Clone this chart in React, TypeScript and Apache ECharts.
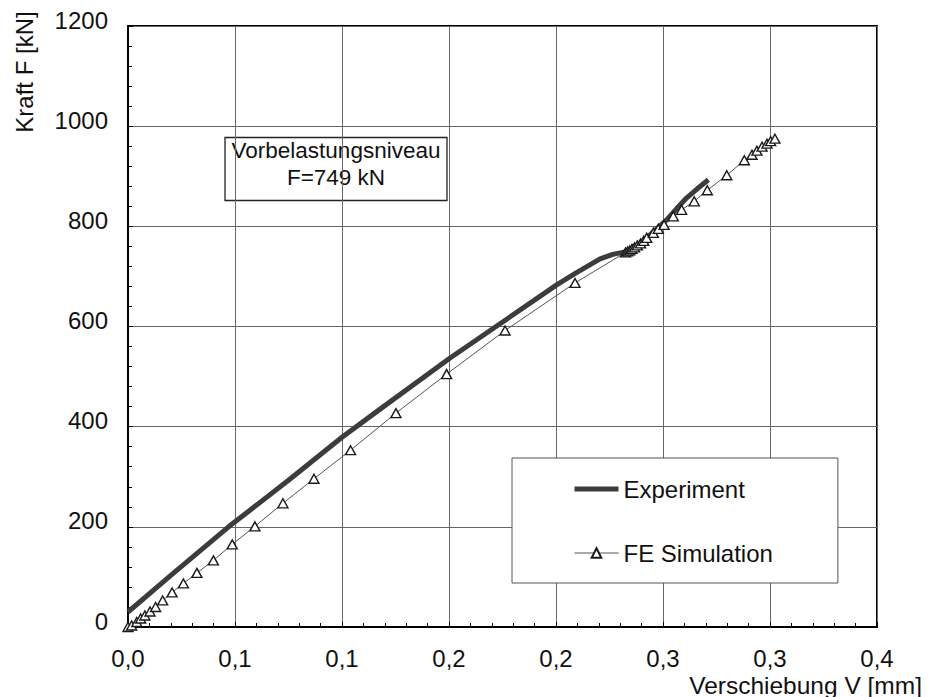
import React, { useEffect, useRef } from 'react';
import * as echarts from 'echarts';

// Experiment (Verschiebung V [mm], Kraft F [kN])
const expX = [0, 0.02, 0.047, 0.075, 0.1, 0.1178, 0.1505, 0.173, 0.2003, 0.209, 0.2206, 0.2265, 0.2322, 0.236, 0.233, 0.2375, 0.2345, 0.2395, 0.237, 0.2407, 0.2455, 0.2517, 0.2565, 0.2611, 0.266, 0.2712];
const expF = [30, 103, 200, 293, 379, 435, 537, 603, 683, 706, 735, 744, 749, 753, 745, 758, 748, 764, 754, 770, 789, 813, 836, 857, 875, 893];

// FE Simulation
const feX = [0, 0.0017, 0.0041, 0.0059, 0.0079, 0.0103, 0.0129, 0.0162, 0.0206, 0.0259, 0.0322, 0.0399, 0.0487, 0.0593, 0.0724, 0.0869, 0.104, 0.1252, 0.1489, 0.1762, 0.2089, 0.2325, 0.2335, 0.2345, 0.2355, 0.2367, 0.238, 0.2395, 0.241, 0.2424, 0.2455, 0.2478, 0.2505, 0.2548, 0.2587, 0.2646, 0.2707, 0.2798, 0.288, 0.2916, 0.2939, 0.2963, 0.2986, 0.3003, 0.3023];
const feF = [0, 3, 10, 17, 23, 31, 40, 53, 69, 87, 108, 133, 165, 201, 247, 296, 353, 427, 505, 592, 687, 748, 750, 752, 755, 758, 762, 766, 771, 777, 787, 795, 803, 820, 833, 850, 872, 902, 932, 943, 951, 959, 965, 970, 975];

const xTickLabels = ['0,0', '0,1', '0,1', '0,2', '0,2', '0,3', '0,3', '0,4'];
const yTickLabels = ['0', '200', '400', '600', '800', '1000', '1200'];

const seriesNames = ['Experiment', 'FE Simulation'];
const xAxisTitle = 'Verschiebung V [mm]';
const yAxisTitle = 'Kraft F [kN]';
const noteLines = ['Vorbelastungsniveau', 'F=749 kN'];

const FONT = "'Liberation Sans', Arial, Helvetica, sans-serif";

export default function App() {
  const ref = useRef<HTMLDivElement>(null);
  useEffect(() => {
    const chart = echarts.init(ref.current!, null, { renderer: 'svg' });
    chart.setOption({
      animation: false,
      backgroundColor: '#ffffff',
      textStyle: { fontFamily: FONT },
      grid: {
        left: 128, right: 51, top: 26, bottom: 70,
        show: true, borderColor: '#000', borderWidth: 2,
        containLabel: false, outerBoundsMode: 'none',
      },
      xAxis: {
        type: 'value', min: 0, max: 0.35, interval: 0.05,
        axisLine: { show: true, lineStyle: { color: '#000', width: 2 } },
        axisTick: { show: true, inside: true, length: 5, lineStyle: { color: '#000' } },
        minorTick: { show: true, splitNumber: 5, length: 4, lineStyle: { color: '#000' } },
        splitLine: { show: true, lineStyle: { color: '#666', width: 1 } },
        axisLabel: {
          margin: 19, fontSize: 24, color: '#111', fontFamily: FONT,
          formatter: (v: number) => xTickLabels[Math.round(v / 0.05)] ?? '',
        },
      },
      yAxis: {
        type: 'value', min: 0, max: 1200, interval: 200,
        axisLine: { show: true, lineStyle: { color: '#000', width: 2 } },
        axisTick: { show: true, inside: true, length: 5, lineStyle: { color: '#000' } },
        minorTick: { show: true, splitNumber: 5, length: 4, lineStyle: { color: '#000' } },
        splitLine: { show: true, lineStyle: { color: '#666', width: 1 } },
        axisLabel: {
          margin: 20, fontSize: 24, color: '#111', fontFamily: FONT,
          verticalAlign: 'bottom', padding: [0, 0, -6, 0],
          formatter: (v: number) => yTickLabels[Math.round(v / 200)] ?? '',
        },
      },
      legend: {
        orient: 'vertical',
        left: 512, top: 458,
        padding: [19, 65, 18, 60],
        itemGap: 40,
        itemWidth: 44,
        itemHeight: 12,
        backgroundColor: '#fff',
        borderColor: '#555',
        borderWidth: 1,
        borderRadius: 0,
        textStyle: { fontSize: 24, color: '#111', fontFamily: FONT },
        data: [
          { name: seriesNames[0], itemStyle: { opacity: 0 }, lineStyle: { width: 5, color: '#3c3c3c' } },
          { name: seriesNames[1], lineStyle: { width: 1, color: '#555' } },
        ],
      },
      graphic: [
        {
          type: 'group', z: 50,
          children: [
            { type: 'rect', shape: { x: 225, y: 137.5, width: 222, height: 63 }, style: { fill: '#fff', stroke: '#222', lineWidth: 1.3 } },
            { type: 'text', x: 336, y: 150, style: { text: noteLines[0], fontSize: 22.5, fontFamily: FONT, fill: '#111', align: 'center', verticalAlign: 'middle' } },
            { type: 'text', x: 336, y: 177, style: { text: noteLines[1], fontSize: 22.5, fontFamily: FONT, fill: '#111', align: 'center', verticalAlign: 'middle' } },
          ],
        },
        { type: 'text', x: 24, y: 72, rotation: Math.PI / 2, z: 50, style: { text: yAxisTitle, fontSize: 24, fontFamily: FONT, fill: '#111', align: 'center', verticalAlign: 'middle' } },
        { type: 'text', x: 922, y: 685, z: 50, style: { text: xAxisTitle, fontSize: 24.5, fontFamily: FONT, fill: '#111', align: 'right', verticalAlign: 'middle' } },
      ],
      series: [
        {
          name: seriesNames[0], type: 'line',
          data: expX.map((x, i) => [x, expF[i]]),
          symbol: 'none', showSymbol: false,
          lineStyle: { color: '#3c3c3c', width: 5 },
          itemStyle: { color: '#3c3c3c' },
          z: 2,
        },
        {
          name: seriesNames[1], type: 'line',
          data: feX.map((x, i) => [x, feF[i]]),
          symbol: 'triangle', symbolSize: [10, 9], showSymbol: true,
          lineStyle: { color: '#555', width: 1 },
          itemStyle: { color: '#fff', borderColor: '#1a1a1a', borderWidth: 1.4 },
          z: 3,
        },
      ],
    });
    return () => chart.dispose();
  }, []);
  return <div ref={ref} style={{ position: 'fixed', left: 0, top: 0, width: 928, height: 697 }} />;
}
